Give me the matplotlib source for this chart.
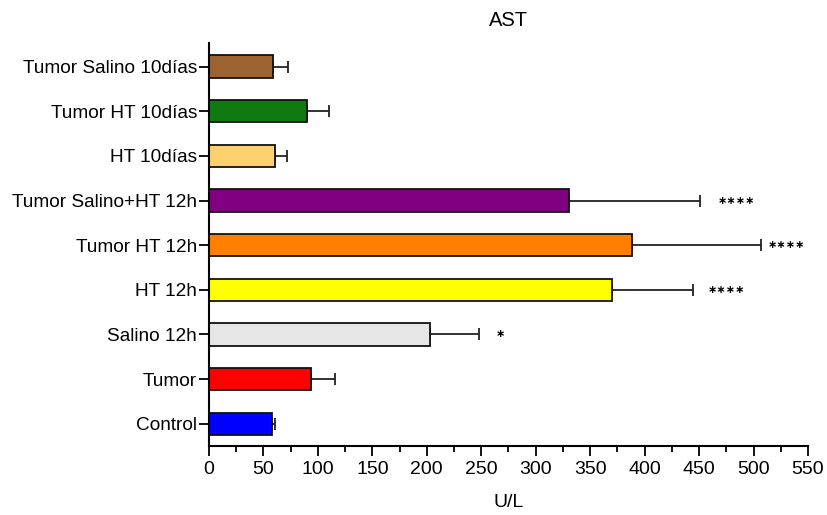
import numpy as np
import matplotlib
matplotlib.use("Agg")
import matplotlib.pyplot as plt
from matplotlib.ticker import MultipleLocator

plt.rcParams['font.family'] = ['Liberation Sans', 'DejaVu Sans']

# groups listed from bottom to top
groups = ['Control', 'Tumor', 'Salino 12h', 'HT 12h', 'Tumor HT 12h',
          'Tumor Salino+HT 12h', 'HT 10días', 'Tumor HT 10días', 'Tumor Salino 10días']
means = [57.5, 94, 203, 370.5, 388, 331, 61, 90, 59]
errs = [3, 22, 45, 74, 119, 120, 11, 20, 14]
colors = ['#0000FF', '#FF0000', '#E6E6E6', '#FFFF00', '#FF8000',
          '#800080', '#FFD070', '#0F7A0F', '#9C6331']
stars = ['', '', '∗', '∗∗∗∗', '∗∗∗∗', '∗∗∗∗', '', '', '']
star_x = [0, 0, 268, 475, 530, 484, 0, 0, 0]

fig = plt.figure(figsize=(8.28, 5.15), dpi=100)
ax = fig.add_axes([0.2524, 0.134, 0.7234, 0.7825])

y = np.arange(len(groups))
ax.barh(y, means, height=0.5, color=colors, edgecolor='#111111', linewidth=1.3, zorder=2)
ax.errorbar(means, y, xerr=[np.zeros(len(errs)), errs], fmt='none', ecolor='#222222',
            elinewidth=1.3, capsize=4.2, capthick=1.3, zorder=1)

for yi, s, sx in zip(y, stars, star_x):
    if s:
        ax.text(sx, yi, s, ha='center', va='center', fontsize=8, fontweight='bold',
                family='DejaVu Sans')

ax.set_xlim(0, 550)
ax.set_ylim(-0.5, 8.53)
ax.set_yticks(y)
ax.set_yticklabels(groups, fontsize=13.7)
ax.xaxis.set_major_locator(MultipleLocator(50))
ax.xaxis.set_minor_locator(MultipleLocator(25))
ax.tick_params(axis='x', labelsize=14, length=7, width=1.3, pad=4)
ax.tick_params(axis='x', which='minor', length=4, width=1.3)
ax.tick_params(axis='y', length=7, width=1.3, pad=1.5)

for side in ['top', 'right']:
    ax.spines[side].set_visible(False)
for side in ['left', 'bottom']:
    ax.spines[side].set_linewidth(1.5)

ax.set_title('AST', fontsize=14.5, pad=12)
ax.set_xlabel('U/L', fontsize=14, labelpad=11)

fig.savefig('out.png', dpi=100)
